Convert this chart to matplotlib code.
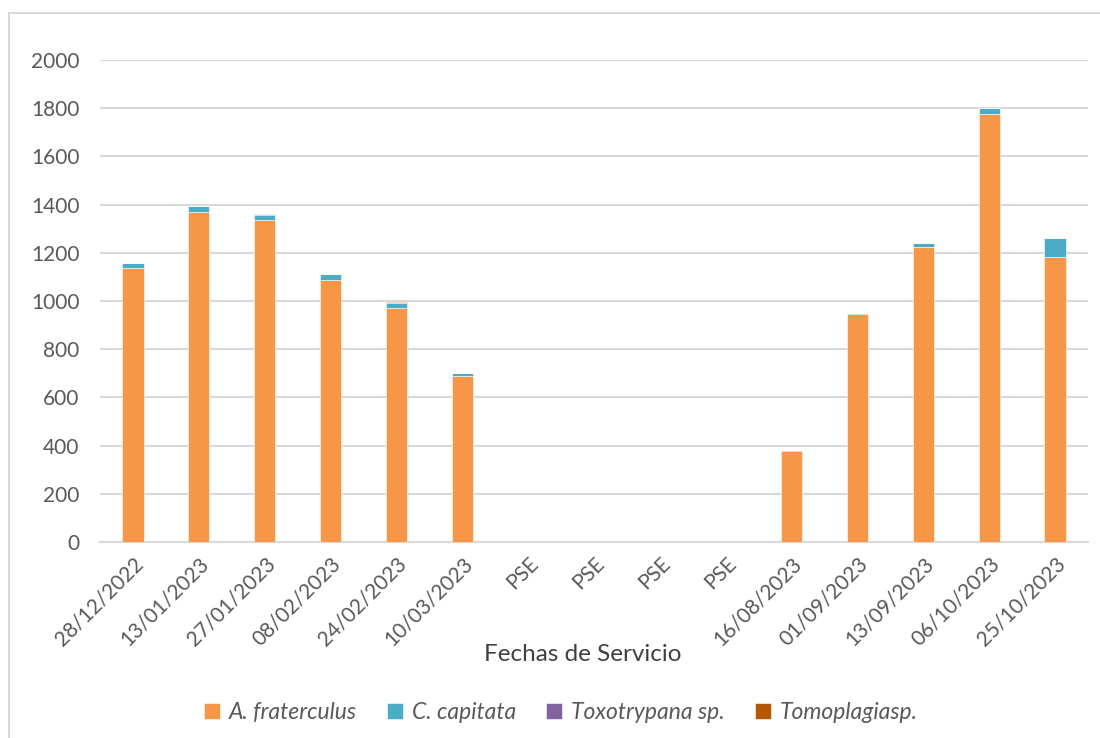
import matplotlib.pyplot as plt
from matplotlib.patches import Rectangle
import numpy as np

fechas = ["28/12/2022", "13/01/2023", "27/01/2023", "08/02/2023", "24/02/2023",
          "10/03/2023", "PSE", "PSE", "PSE", "PSE", "16/08/2023", "01/09/2023",
          "13/09/2023", "06/10/2023", "25/10/2023"]

a_fraterculus = [1135, 1368, 1335, 1087, 972, 689, 0, 0, 0, 0, 376, 948, 1223, 1778, 1184]
c_capitata = [21, 27, 22, 24, 20, 14, 0, 0, 0, 0, 4, 3, 17, 22, 77]
toxotrypana = [0, 0, 5, 0, 0, 0, 0, 0, 0, 0, 0, 0, 0, 0, 0]
tomoplagia = [0, 0, 0, 0, 4, 0, 0, 0, 0, 0, 0, 0, 0, 0, 0]

series = [
    ("A. fraterculus", a_fraterculus, "#F79646"),
    ("C. capitata", c_capitata, "#4BACC6"),
    ("Toxotrypana sp.", toxotrypana, "#8064A2"),
    ("Tomoplagiasp.", tomoplagia, "#B65708"),
]

plt.rcParams["font.family"] = ["Lato", "DejaVu Sans"]

def main():
    fig = plt.figure(figsize=(11, 7.38), dpi=100)
    ax = fig.add_axes([0.091, 0.2656, 0.898, 0.6531])

    # outer chart frame
    fig.patches.append(Rectangle((0.008, -0.05), 1.2, 1.032, transform=fig.transFigure,
                                 fill=False, edgecolor="#d9d9d9", lw=1.5))

    x = np.arange(len(fechas))
    bottom = np.zeros(len(fechas))
    for name, vals, color in series:
        ax.bar(x, vals, width=0.32, bottom=bottom, color=color, label=name,
               edgecolor="white", linewidth=0.4, zorder=3)
        bottom += np.array(vals)

    ax.set_ylim(0, 2000)
    ax.set_xlim(-0.5, len(fechas) - 0.5)
    ax.set_yticks(range(0, 2001, 200))
    ax.yaxis.grid(True, color="#d9d9d9", lw=1.5, zorder=0)
    for s in ["top", "right", "left"]:
        ax.spines[s].set_visible(False)
    ax.spines["bottom"].set_color("#d9d9d9")
    ax.spines["bottom"].set_linewidth(1.5)
    ax.tick_params(length=0, labelcolor="#595959", labelsize=15)
    ax.tick_params(axis="y", pad=15)
    ax.set_xticks(x)
    ax.set_xticklabels(fechas, rotation=45, ha="right", rotation_mode="anchor")
    ax.tick_params(axis="x", pad=8)

    fig.text(0.53, 0.105, "Fechas de Servicio", ha="center", fontsize=17.5, color="#404040")

    leg = fig.legend(loc="center", bbox_to_anchor=(0.51, 0.035), ncol=4, frameon=False,
                     prop={"style": "italic", "size": 16.5}, handlelength=0.7,
                     handleheight=0.7, handletextpad=0.4, columnspacing=1.3)
    for t in leg.get_texts():
        t.set_color("#595959")

    fig.savefig("out.png", dpi=100)


if __name__ == "__main__":
    main()
